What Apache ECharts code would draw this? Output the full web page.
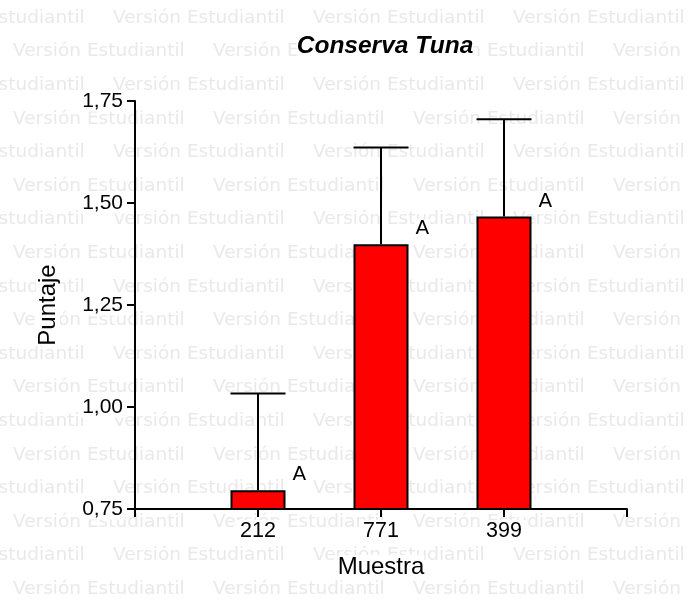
<!DOCTYPE html>
<html>
<head>
<meta charset="utf-8">
<script src="https://cdn.jsdelivr.net/npm/echarts@6/dist/echarts.min.js"></script>
<style>html,body{margin:0;padding:0;background:#fff;}#c{width:688px;height:610px;}</style>
</head>
<body>
<div id="c"></div>
<script>
// ---- data ----
var categories = ['', '212', '771', '399', ''];
var means = [null, 0.796, 1.399, 1.467, null];
var errors = [null, 0.237, 0.237, 0.238, null];
var groupLetters = ['', 'A', 'A', 'A', ''];
var yTicks = [0.75, 1.00, 1.25, 1.50, 1.75];
var titleText = 'Conserva Tuna';
var xName = 'Muestra';
var yName = 'Puntaje';
var watermarkText = 'Versión Estudiantil';

// ---- watermark (decoration) ----
var wm = [];
for (var r = 0; r < 19; r++) {
  var y = 18 + r * 33.6;
  var x0 = (r % 2 === 0) ? -87 : 13;
  for (var x = x0; x < 688; x += 200) {
    wm.push({
      type: 'text', x: x, y: y, z: -10, silent: true,
      style: { text: watermarkText, fill: '#e9e9e9', fontFamily: 'DejaVu Sans', fontSize: 18.5, fontWeight: 'normal', verticalAlign: 'middle', align: 'left' }
    });
  }
}

var chart = echarts.init(document.getElementById('c'), null, { renderer: 'canvas' });
var barData = means.map(function (v, i) {
  return v == null ? null : { value: v, label: { show: true, formatter: groupLetters[i] } };
});
var errData = means.map(function (v, i) { return v == null ? null : [i, v, v + errors[i]]; }).filter(Boolean);

chart.setOption({
  animation: false,
  backgroundColor: '#fff',
  graphic: wm,
  title: {
    text: titleText,
    left: 385, top: 34, textAlign: 'center', padding: 0,
    backgroundColor: '#fff',
    textStyle: { fontFamily: 'Liberation Sans', fontSize: 24.5, fontWeight: 'bold', fontStyle: 'italic', color: '#000' }
  },
  grid: { left: 135, right: 61, top: 101, bottom: 101, containLabel: false },
  xAxis: {
    type: 'category', data: categories, boundaryGap: false,
    name: xName, nameLocation: 'middle', nameGap: 46,
    nameTextStyle: { fontFamily: 'Liberation Sans', fontSize: 24, color: '#000', backgroundColor: '#fff' },
    axisLine: { lineStyle: { color: '#000', width: 2 } },
    axisTick: { show: true, length: 8, lineStyle: { color: '#000', width: 2 } },
    axisLabel: { fontFamily: 'Liberation Sans', fontSize: 21.5, color: '#000', margin: 11, backgroundColor: '#fff', padding: [0, 4] },
    splitLine: { show: false }
  },
  yAxis: {
    type: 'value', min: yTicks[0], max: yTicks[yTicks.length - 1], interval: 0.25,
    name: yName, nameLocation: 'middle', nameGap: 75, nameRotate: 90,
    nameTextStyle: { fontFamily: 'Liberation Sans', fontSize: 24, color: '#000', backgroundColor: '#fff' },
    axisLine: { show: true, lineStyle: { color: '#000', width: 2 } },
    axisTick: { show: true, length: 8, lineStyle: { color: '#000', width: 2 } },
    axisLabel: {
      fontFamily: 'Liberation Sans', fontSize: 21, color: '#000', margin: 10, backgroundColor: '#fff', padding: [0, 2],
      formatter: function (v) { return v.toFixed(2).replace('.', ','); }
    },
    splitLine: { show: false }
  },
  series: [
    {
      type: 'bar', data: barData, barWidth: 55, z: 2,
      itemStyle: { color: '#ff0000', borderColor: '#000', borderWidth: 2 },
      label: {
        position: ['100%', 0], offset: [6, -15], align: 'left', verticalAlign: 'middle',
        fontFamily: 'DejaVu Sans', fontSize: 20, color: '#000', backgroundColor: '#fff', padding: [0, 1]
      }
    },
    {
      type: 'custom', data: errData, z: 3,
      renderItem: function (params, api) {
        var x = api.value(0);
        var p0 = api.coord([x, api.value(1)]);
        var p1 = api.coord([x, api.value(2)]);
        var hw = 27.5;
        return {
          type: 'group',
          children: [
            { type: 'line', shape: { x1: p0[0], y1: p0[1], x2: p1[0], y2: p1[1] }, style: { stroke: '#000', lineWidth: 2 } },
            { type: 'line', shape: { x1: p1[0] - hw, y1: p1[1], x2: p1[0] + hw, y2: p1[1] }, style: { stroke: '#000', lineWidth: 2 } }
          ]
        };
      }
    }
  ]
});
</script>
</body>
</html>
